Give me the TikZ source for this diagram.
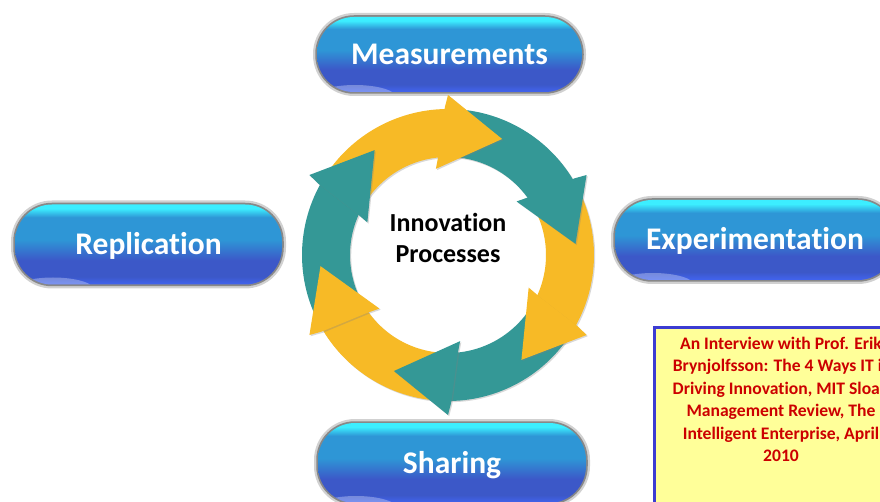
\documentclass[tikz,border=0pt]{standalone}
\usepackage{fontspec}
\setmainfont{Carlito}[Ligatures=NoCommon]
\usetikzlibrary{shadows}
\definecolor{arrY}{RGB}{247,186,38}
\definecolor{arrT}{RGB}{52,152,150}
\definecolor{pillTop}{RGB}{60,238,255}
\definecolor{pillMid}{RGB}{46,150,214}
\definecolor{pillBot}{RGB}{60,88,200}
\definecolor{pillBotB}{RGB}{66,100,240}
\definecolor{boxFill}{RGB}{255,255,153}
\definecolor{boxLine}{RGB}{60,60,210}
\definecolor{refRed}{RGB}{204,0,0}
\pgfdeclareverticalshading{pillshade}{100bp}{color(0bp)=(pillBotB); color(25bp)=(pillBotB); color(30bp)=(pillBot); color(40bp)=(pillBot); color(53bp)=(pillMid); color(67bp)=(pillMid); color(72.5bp)=(pillTop); color(100bp)=(pillTop)}
\begin{document}
\begin{tikzpicture}[x=1pt,y=1pt,
  pill/.style={rectangle, rounded corners=37pt, shading=pillshade,
    preaction={draw=black, opacity=0.18, line width=8pt},
    preaction={draw=black, opacity=0.35, line width=3.5pt},
    path picture={\fill[white,opacity=0.3] ([xshift=38pt,yshift=-6pt]path picture bounding box.south west) ellipse (42pt and 13pt);},
    text=white, font=\bfseries\fontsize{31.5}{36}\selectfont,
    text height=20pt, text depth=0pt, inner sep=0pt},
  piece/.style={drop shadow={opacity=0.3, shadow xshift=1.2pt, shadow yshift=-1.2pt}},
  ctrtext/.style={font=\bfseries\fontsize{26}{31}\selectfont, anchor=base, inner sep=0pt},
  reftext/.style={font=\bfseries\fontsize{17.6}{22.4}\selectfont, text=refRed, align=center, inner sep=0pt}]
\useasboundingbox (0,0) rectangle (880,501);
\clip (0,0) rectangle (880,501);
\fill[white] (0,0) rectangle (880,501);

% pills
\node[pill, minimum width=265pt, minimum height=75pt] (meas) at (449.5,446.5) {Measurements};
\node[pill, minimum width=267pt, minimum height=80pt] (repl) at (148.5,256.5) {Replication};
\node[pill, minimum width=280pt, minimum height=80pt] (expe) at (755,261) {Experimentation};
\node[pill, minimum width=268pt, minimum height=80pt] (shar) at (452,38) {Sharing};

% cycle arrows
\begin{scope}[shift={(448,246)}]
\foreach \t/\c in {5/arrT,65/arrY,125/arrT,185/arrY,245/arrT,305/arrY} {
  \fill[\c, piece] (\t+22:146) arc[start angle=\t+22, end angle=\t+82, radius=146]
    -- (\t+86:98) arc[start angle=\t+86, end angle=\t+26, radius=98] -- cycle;
}
\foreach \t/\c in {5/arrT,65/arrY,125/arrT,185/arrY,245/arrT,305/arrY} {
  \fill[\c, piece] (\t:128) -- (\t+25:160) -- (\t+26.2:148) -- (\t+30.5:100) -- (\t+33:87) -- cycle;
}
\end{scope}

\node[ctrtext] (innov) at (448,269.3) {Innovation};
\node[ctrtext] (proc) at (448,238) {Processes};

% reference box
\node[draw=boxLine, fill=boxFill, line width=2.5pt, minimum width=254pt, minimum height=200pt, anchor=north west] (refbox) at (653,175) {};
\node[reftext, anchor=north] (ref) at (781,164) {An Interview with Prof. Erik\\Brynjolfsson: The 4 Ways IT is\\Driving Innovation, MIT Sloan\\Management Review, The\\Intelligent Enterprise, April\\2010};
\end{tikzpicture}
\end{document}
